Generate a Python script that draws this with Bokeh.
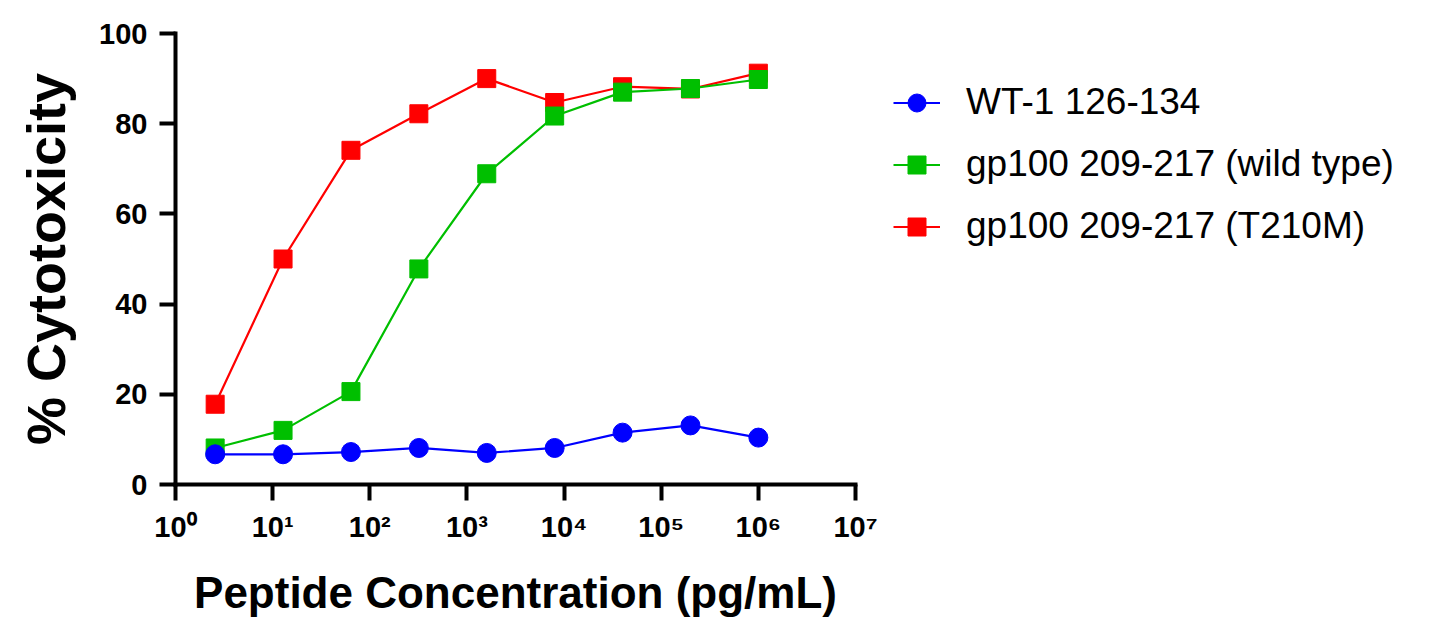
from bokeh.plotting import figure
from bokeh.models import FixedTicker, CustomJSTickFormatter, Legend, LegendItem
from bokeh.embed import file_html
from bokeh.resources import INLINE

# ---- data ----
concentration = [2.56, 12.8, 64, 320, 1600, 8000, 40000, 200000, 1000000]
wt1_126_134 = [6.7, 6.7, 7.2, 8.1, 7.0, 8.1, 11.5, 13.1, 10.4]
gp100_wild = [8.1, 12.0, 20.6, 47.8, 68.9, 81.7, 87.0, 87.8, 89.8]
gp100_t210m = [17.8, 50.0, 74.1, 82.2, 90.0, 84.7, 88.2, 87.7, 91.2]

series_names = ["WT-1 126-134", "gp100 209-217 (wild type)", "gp100 209-217 (T210M)"]
x_ticks = [1, 10, 100, 1000, 10000, 100000, 1000000, 10000000]
y_ticks = [0, 20, 40, 60, 80, 100]

FONT = "Liberation Sans"

p = figure(frame_width=680, frame_height=451, x_axis_type="log",
           x_range=(1, 1e7), y_range=(0, 100),
           output_backend="svg", toolbar_location=None,
           min_border_left=175, min_border_right=10,
           min_border_top=33, min_border_bottom=125)
p.outline_line_color = None
p.xgrid.visible = False
p.ygrid.visible = False
p.background_fill_color = "white"

# series (red first so green and blue draw over it)
r_line = p.line(concentration, gp100_t210m, line_color="#ff0000", line_width=2.2)
r_mark = p.scatter(concentration, gp100_t210m, marker="square", size=18,
                   fill_color="#ff0000", line_color="#ff0000")
g_line = p.line(concentration, gp100_wild, line_color="#00bf00", line_width=2.2)
g_mark = p.scatter(concentration, gp100_wild, marker="square", size=18,
                   fill_color="#00bf00", line_color="#00bf00")
b_line = p.line(concentration, wt1_126_134, line_color="#0000ff", line_width=2.2)
b_mark = p.scatter(concentration, wt1_126_134, marker="circle", size=19,
                   fill_color="#0000ff", line_color="#0000ff")

# axes
for ax in (p.xaxis[0], p.yaxis[0]):
    ax.axis_line_width = 4
    ax.axis_line_color = "black"
    ax.axis_line_cap = "square"
    ax.major_tick_line_width = 4
    ax.major_tick_line_color = "black"
    ax.major_tick_out = 16
    ax.major_tick_in = 0
    ax.minor_tick_line_color = None
    ax.major_label_text_font = FONT
    ax.major_label_text_font_style = "bold"
    ax.major_label_text_font_size = "29px"
    ax.major_label_text_color = "black"
    ax.axis_label_text_font = FONT
    ax.axis_label_text_font_style = "bold"
    ax.axis_label_text_color = "black"

p.xaxis.ticker = FixedTicker(ticks=x_ticks)
p.xaxis.formatter = CustomJSTickFormatter(code="""
const sup = {'0':'\u2070','1':'\u00b9','2':'\u00b2','3':'\u00b3','4':'\u2074',
             '5':'\u2075','6':'\u2076','7':'\u2077','8':'\u2078','9':'\u2079','-':'\u207b'};
const e = Math.round(Math.log10(tick));
return '10' + String(e).split('').map(c => sup[c]).join('');
""")
p.xaxis.major_label_standoff = 10
p.xaxis.axis_label = "Peptide Concentration (pg/mL)"
p.xaxis.axis_label_text_font_size = "44px"
p.xaxis.axis_label_standoff = 22

p.yaxis.ticker = FixedTicker(ticks=y_ticks)
p.yaxis.major_label_standoff = 12
p.yaxis.axis_label = "% Cytotoxicity"
p.yaxis.axis_label_text_font_size = "54px"
p.yaxis.axis_label_standoff = 20

legend = Legend(items=[
    LegendItem(label=series_names[0], renderers=[b_line, b_mark]),
    LegendItem(label=series_names[1], renderers=[g_line, g_mark]),
    LegendItem(label=series_names[2], renderers=[r_line, r_mark]),
], location="top_left")
legend.border_line_color = None
legend.background_fill_alpha = 0
legend.label_text_font = FONT
legend.label_text_font_size = "37px"
legend.label_text_color = "black"
legend.glyph_width = 47
legend.glyph_height = 45
legend.label_standoff = 26
legend.label_height = 62
legend.spacing = 0
legend.margin = 38
legend.padding = 0
p.add_layout(legend, "right")

open("out.html", "w").write(file_html(p, INLINE))
